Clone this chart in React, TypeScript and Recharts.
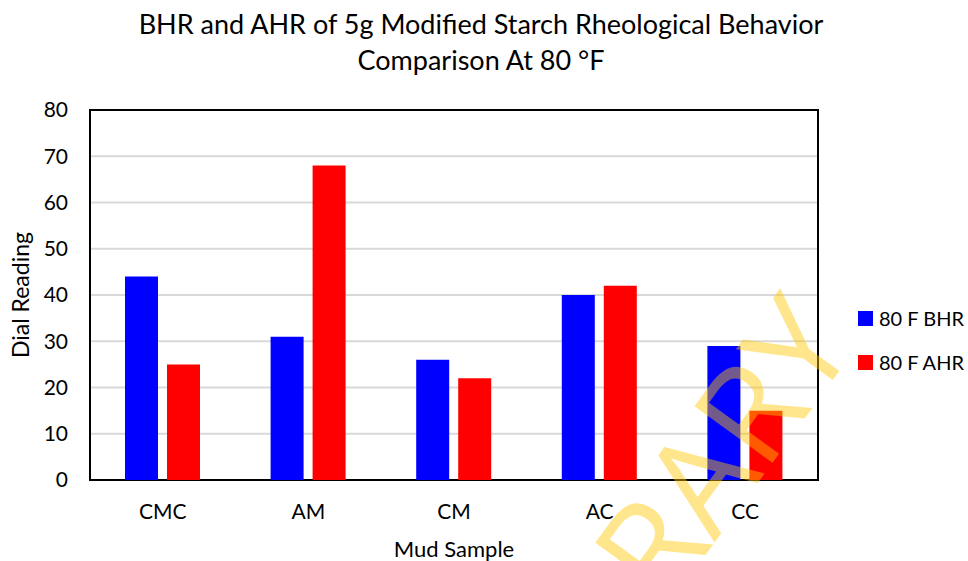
import React from "react";
import {
  BarChart,
  Bar,
  XAxis,
  YAxis,
  CartesianGrid,
  Legend,
  ReferenceArea,
} from "recharts";

const samples = ["CMC", "AM", "CM", "AC", "CC"];
const bhr = [44, 31, 26, 40, 29];
const ahr = [25, 68, 22, 42, 15];
const yTicks = [0, 10, 20, 30, 40, 50, 60, 70, 80];
const seriesNames = ["80 F BHR", "80 F AHR"];

const data = samples.map((name, i) => ({ name, bhr: bhr[i], ahr: ahr[i] }));

const FONT = "Lato, 'Open Sans', sans-serif";

function LegendBox({ payload }: any) {
  const items = [...(payload || [])].sort(
    (a: any, b: any) => seriesNames.indexOf(a.value) - seriesNames.indexOf(b.value)
  );
  return (
    <div style={{ fontFamily: FONT, fontSize: 20, color: "#000", whiteSpace: "nowrap" }}>
      {items.map((p: any) => (
        <div key={p.value} style={{ display: "flex", alignItems: "center", height: 44 }}>
          <span
            style={{ width: 15, height: 15, background: p.color, marginRight: 6, display: "inline-block" }}
          />
          {p.value}
        </div>
      ))}
    </div>
  );
}

export default function App() {
  return (
    <div style={{ position: "absolute", left: 0, top: 0, width: 968, height: 561, overflow: "hidden", background: "#fff" }}>
      <div
        style={{
          position: "absolute",
          left: 0,
          width: 962,
          top: 6,
          textAlign: "center",
          fontFamily: FONT,
          fontSize: 27,
          lineHeight: "36px",
          color: "#000",
        }}
      >
        BHR and AHR of 5g Modified Starch Rheological Behavior
        <br />
        Comparison At 80 °F
      </div>
      <div
        style={{
          position: "absolute",
          left: 20,
          top: 295,
          transform: "translate(-50%, -50%) rotate(-90deg)",
          fontFamily: FONT,
          fontSize: 23,
          whiteSpace: "nowrap",
          color: "#000",
        }}
      >
        Dial Reading
      </div>
      <BarChart
        width={968}
        height={561}
        data={data}
        margin={{ top: 110, right: 150, bottom: 51, left: 40 }}
        barGap={9}
        barSize={33}
      >
        <CartesianGrid vertical={false} stroke="#d9d9d9" strokeWidth={2} />
        <XAxis
          dataKey="name"
          height={30}
          tickLine={false}
          tickMargin={18}
          axisLine={false}
          tick={{ fontSize: 21, fill: "#000", fontFamily: FONT }}
          interval={0}
        />
        <YAxis
          domain={[0, 80]}
          ticks={yTicks}
          width={50}
          tickLine={false}
          tickMargin={16}
          axisLine={false}
          tick={{ fontSize: 21, fill: "#000", fontFamily: FONT }}
        />
        <Legend
          layout="horizontal"
          verticalAlign="middle"
          align="center"
          content={<LegendBox />}
          wrapperStyle={{ left: 858, top: 296, width: 110 }}
        />
        <Bar dataKey="bhr" name={seriesNames[0]} fill="#0000ff" isAnimationActive={false} />
        <Bar dataKey="ahr" name={seriesNames[1]} fill="#ff0000" isAnimationActive={false} />
        <ReferenceArea y1={0} y2={80} fill="none" stroke="#000" strokeWidth={2} ifOverflow="visible" />
      </BarChart>
      <div
        style={{
          position: "absolute",
          left: 0,
          width: 908,
          top: 536,
          textAlign: "center",
          fontFamily: FONT,
          fontSize: 22,
          lineHeight: "26px",
          color: "#000",
        }}
      >
        Mud Sample
      </div>
      <svg
        width={968}
        height={561}
        style={{ position: "absolute", left: 0, top: 0, pointerEvents: "none" }}
      >
        <text
          x={858}
          y={345}
          textAnchor="end"
          transform="rotate(-54 858 345)"
          fontFamily="'Open Sans', sans-serif"
          fontSize={135}
          fill="rgb(255,200,0)"
          fillOpacity={0.45}
        >
          LIBRARY
        </text>
      </svg>
    </div>
  );
}
